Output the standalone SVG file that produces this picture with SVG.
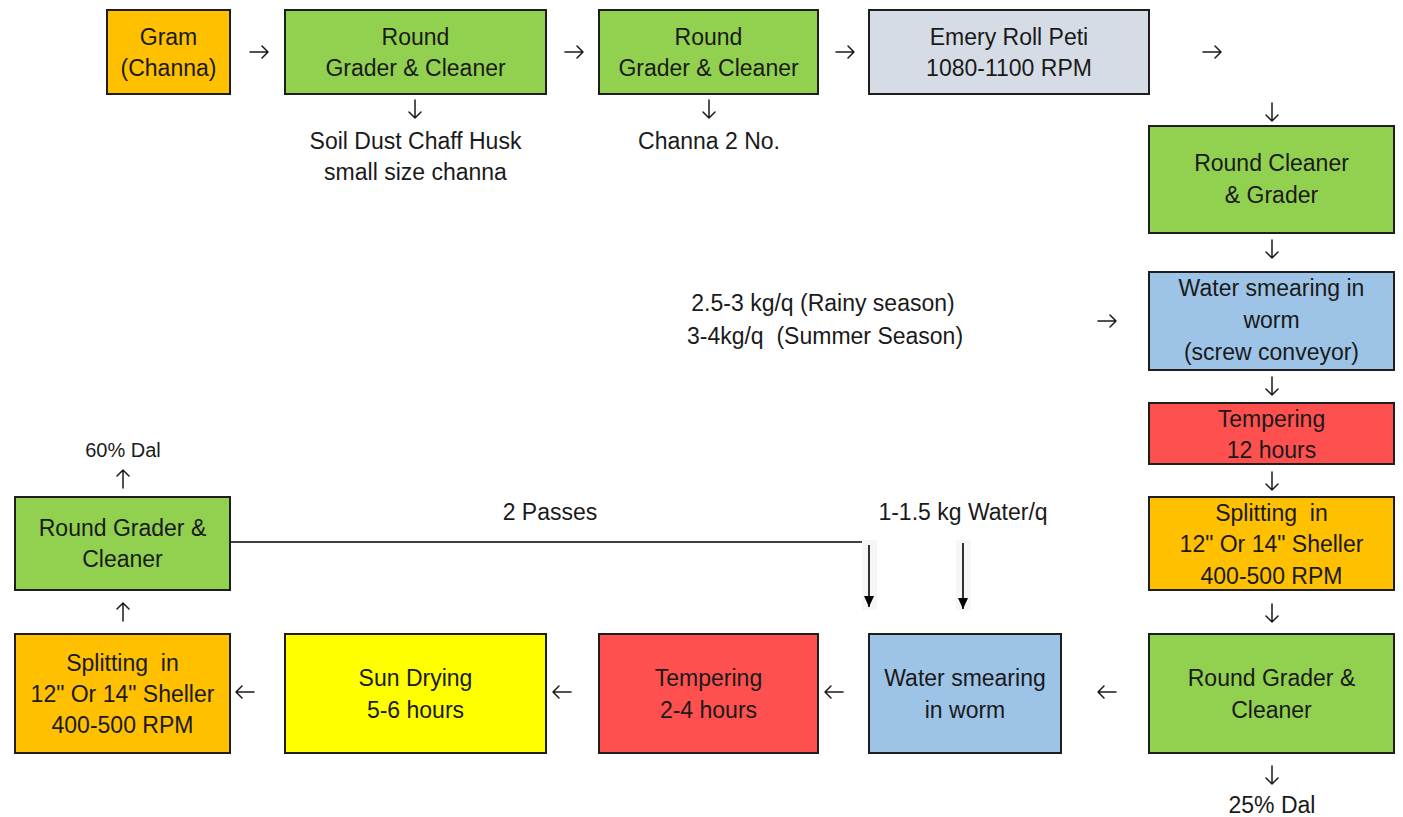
<svg xmlns="http://www.w3.org/2000/svg" width="1403" height="817" viewBox="0 0 1403 817">
<style>
.box{stroke:#1e1e1e;stroke-width:2}
.t{font-family:"Liberation Sans",Arial,sans-serif;font-size:23px;fill:#1a1a1a;text-anchor:middle}
.s{font-family:"Liberation Sans",Arial,sans-serif;font-size:20px;fill:#1a1a1a;text-anchor:middle}
.ar{fill:none;stroke:#1a1a1a;stroke-width:1.5;stroke-linecap:round;stroke-linejoin:round}
.ln{stroke:#000;stroke-width:1.6;fill:none}
.or{fill:#FFC000}.gr{fill:#92D050}.gy{fill:#D6DCE5}.bl{fill:#9DC3E6}.rd{fill:#FF5050}.ye{fill:#FFFF00}
</style>
<defs>
<path id="aR" class="ar" d="M-9,0 H9 M3,-6 L9,0 L3,6"/>
<path id="aL" class="ar" d="M9,0 H-9 M-3,-6 L-9,0 L-3,6"/>
<path id="aD" class="ar" d="M0,-9 V9 M-6,3 L0,9 L6,3"/>
<path id="aU" class="ar" d="M0,9 V-9 M-6,-3 L0,-9 L6,-3"/>
<marker id="tri" markerWidth="11" markerHeight="10" refX="11" refY="5" orient="auto" markerUnits="userSpaceOnUse" viewBox="0 0 11 10">
<path d="M0,0 L11,5 L0,10 Z" fill="#000"/>
</marker>
</defs>
<rect width="1403" height="817" fill="#fff"/>

<g id="n1"><rect class="box or" x="107" y="10" width="123" height="84"/><text class="t" x="168.5" y="45">Gram</text><text class="t" x="168.5" y="76">(Channa)</text></g>
<g id="n2"><rect class="box gr" x="285" y="10" width="261" height="84"/><text class="t" x="415.5" y="45">Round</text><text class="t" x="415.5" y="76">Grader &amp; Cleaner</text></g>
<g id="n3"><rect class="box gr" x="599" y="10" width="219" height="84"/><text class="t" x="708.5" y="45">Round</text><text class="t" x="708.5" y="76">Grader &amp; Cleaner</text></g>
<g id="n4"><rect class="box gy" x="869" y="10" width="280" height="84"/><text class="t" x="1009" y="45">Emery Roll Peti</text><text class="t" x="1009" y="76">1080-1100 RPM</text></g>
<g id="n5"><rect class="box gr" x="1149" y="126" width="245" height="107"/><text class="t" x="1271.5" y="171">Round Cleaner</text><text class="t" x="1271.5" y="203">&amp; Grader</text></g>
<g id="n6"><rect class="box bl" x="1149" y="272" width="245" height="98"/><text class="t" x="1271.5" y="296">Water smearing in</text><text class="t" x="1271.5" y="328">worm</text><text class="t" x="1271.5" y="360">(screw conveyor)</text></g>
<g id="n7"><rect class="box rd" x="1149" y="403" width="245" height="61"/><text class="t" x="1271.5" y="427">Tempering</text><text class="t" x="1271.5" y="458">12 hours</text></g>
<g id="n8"><rect class="box or" x="1149" y="497" width="245" height="93"/><text class="t" x="1271.5" y="521" xml:space="preserve">Splitting  in</text><text class="t" x="1271.5" y="552">12" Or 14" Sheller</text><text class="t" x="1271.5" y="584">400-500 RPM</text></g>
<g id="n9"><rect class="box gr" x="1149" y="634" width="245" height="119"/><text class="t" x="1271.5" y="686">Round Grader &amp;</text><text class="t" x="1271.5" y="718">Cleaner</text></g>
<g id="n10"><rect class="box bl" x="869" y="634" width="192" height="119"/><text class="t" x="965" y="686">Water smearing</text><text class="t" x="965" y="718">in worm</text></g>
<g id="n11"><rect class="box rd" x="599" y="634" width="219" height="119"/><text class="t" x="708.5" y="686">Tempering</text><text class="t" x="708.5" y="718">2-4 hours</text></g>
<g id="n12"><rect class="box ye" x="285" y="634" width="261" height="119"/><text class="t" x="415.5" y="686">Sun Drying</text><text class="t" x="415.5" y="718">5-6 hours</text></g>
<g id="n13"><rect class="box or" x="15" y="634" width="215" height="119"/><text class="t" x="122.5" y="671" xml:space="preserve">Splitting  in</text><text class="t" x="122.5" y="702">12" Or 14" Sheller</text><text class="t" x="122.5" y="733">400-500 RPM</text></g>
<g id="n14"><rect class="box gr" x="15" y="497" width="215" height="93"/><text class="t" x="122.5" y="536">Round Grader &amp;</text><text class="t" x="122.5" y="567">Cleaner</text></g>

<g id="labels">
<text class="t" x="415.5" y="149">Soil Dust Chaff Husk</text>
<text class="t" x="415.5" y="180">small size channa</text>
<text class="t" x="709" y="149">Channa 2 No.</text>
<text class="t" x="823" y="311">2.5-3 kg/q (Rainy season)</text>
<text class="t" x="825" y="344" xml:space="preserve">3-4kg/q  (Summer Season)</text>
<text class="s" x="123" y="457">60% Dal</text>
<text class="t" x="550" y="520">2 Passes</text>
<text class="t" x="963" y="520">1-1.5 kg Water/q</text>
<text class="t" x="1272" y="813">25% Dal</text>
</g>

<g id="connectors">
<use href="#aR" x="259" y="52"/>
<use href="#aR" x="574" y="52"/>
<use href="#aR" x="845" y="52"/>
<use href="#aR" x="1212" y="52"/>
<use href="#aD" x="415" y="109"/>
<use href="#aD" x="709" y="109"/>
<use href="#aD" x="1272" y="112"/>
<use href="#aD" x="1272" y="249"/>
<use href="#aR" x="1107" y="321"/>
<use href="#aD" x="1272" y="386"/>
<use href="#aD" x="1272" y="481"/>
<use href="#aD" x="1272" y="613"/>
<use href="#aD" x="1272" y="775"/>
<use href="#aL" x="1107" y="692"/>
<use href="#aL" x="834" y="692"/>
<use href="#aL" x="562" y="692"/>
<use href="#aL" x="245" y="692"/>
<use href="#aU" x="123" y="612"/>
<use href="#aU" x="123" y="479"/>
<rect x="862" y="540" width="15" height="70" fill="#f6f6f6"/>
<rect x="956" y="540" width="15" height="70" fill="#f6f6f6"/>
<path class="ln" d="M230,542 H862"/>
<path class="ln" d="M869,545 V607" marker-end="url(#tri)"/>
<path class="ln" d="M963,543 V609" marker-end="url(#tri)"/>
</g>
</svg>
